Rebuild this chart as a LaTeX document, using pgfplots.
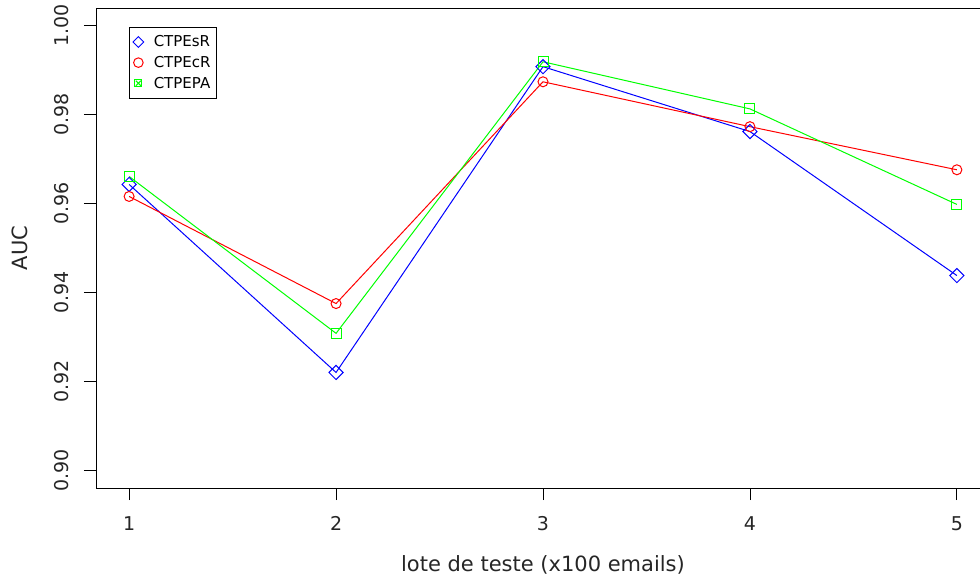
\documentclass[border=0pt]{standalone}
\usepackage{pgfplots}
\pgfplotsset{compat=1.18}
\usepackage{fontspec}
\setmainfont{DejaVu Sans}

\definecolor{rblue}{RGB}{0,0,255}
\definecolor{rred}{RGB}{255,0,0}
\definecolor{rgreen}{RGB}{0,255,0}

\pgfplotsset{
    markonly legend/.style={
        legend image code/.code={\draw[only marks, ##1, mark size=#1] plot coordinates {(0cm,0cm)};}},
    crossbox legend/.style={
        legend image code/.code={\draw[only marks, ##1, mark size=3.6pt] plot coordinates {(0cm,0cm)};
            \draw[only marks, ##1, mark=x, mark size=3.6pt] plot coordinates {(0cm,0cm)};}},
}

\begin{document}
\begin{tikzpicture}
% page = the 980x579 frame of the reference; the right edge of the box is cut off there
\useasboundingbox (-96pt,-91pt) rectangle (884pt,488pt);
\begin{axis}[
    scale only axis,
    width  = 894pt,
    height = 480pt,
    xmin = 0.84, xmax = 5.16,
    ymin = 0.896, ymax = 1.004,
    xtick = {1,2,3,4,5},
    ytick = {0.90,0.92,0.94,0.96,0.98,1.00},
    tick align = outside,
    major tick length = 12pt,
    tick style = {black, line width=0.9pt},
    axis line style = {line width=0.9pt},
    xtick pos = bottom, ytick pos = left,
    xticklabel shift = 13pt,
    yticklabel shift = 12pt,
    yticklabel style = {rotate=90, anchor=south,
        /pgf/number format/.cd, fixed, fixed zerofill, precision=2},
    /pgf/number format/assume math mode=true,
    ticklabel style = {font=\fontsize{19}{22}\selectfont, text=black!85},
    label style = {font=\fontsize{21}{25}\selectfont, text=black!85},
    xlabel = {lote de teste (x100 emails)},
    ylabel = {AUC},
    xlabel style = {at={(axis description cs:0.5,-0.160)}, anchor=center},
    ylabel style = {at={(axis description cs:-0.085,0.5)}, anchor=center, rotate=0},
    legend style = {at={(axis cs:1,1.0)}, anchor=north west, yshift=-1pt,
        draw=black, line width=0.8pt, font=\fontsize{15}{18}\selectfont,
        inner xsep=3.5pt, inner ysep=6.5pt, row sep=4pt,
        /tikz/every odd column/.append style={column sep=8pt}},
    legend cell align = left,
]

\addplot[rblue, line width=1pt, mark=square, mark size=5pt,
    every mark/.append style={rotate=45, solid}, markonly legend=3.8pt]
    coordinates {(1,0.9643)(2,0.9220)(3,0.9908)(4,0.9762)(5,0.9438)};
\addlegendentry{CTPEsR}

\addplot[rred, line width=1pt, mark=o, mark size=5pt, markonly legend=4.8pt]
    coordinates {(1,0.9616)(2,0.9375)(3,0.9874)(4,0.9773)(5,0.9676)};
\addlegendentry{CTPEcR}

\addplot[rgreen, line width=1pt, mark=square, mark size=5pt, crossbox legend]
    coordinates {(1,0.9661)(2,0.9308)(3,0.9919)(4,0.9813)(5,0.9598)};
\addlegendentry{CTPEPA}

\end{axis}
\end{tikzpicture}
\end{document}
